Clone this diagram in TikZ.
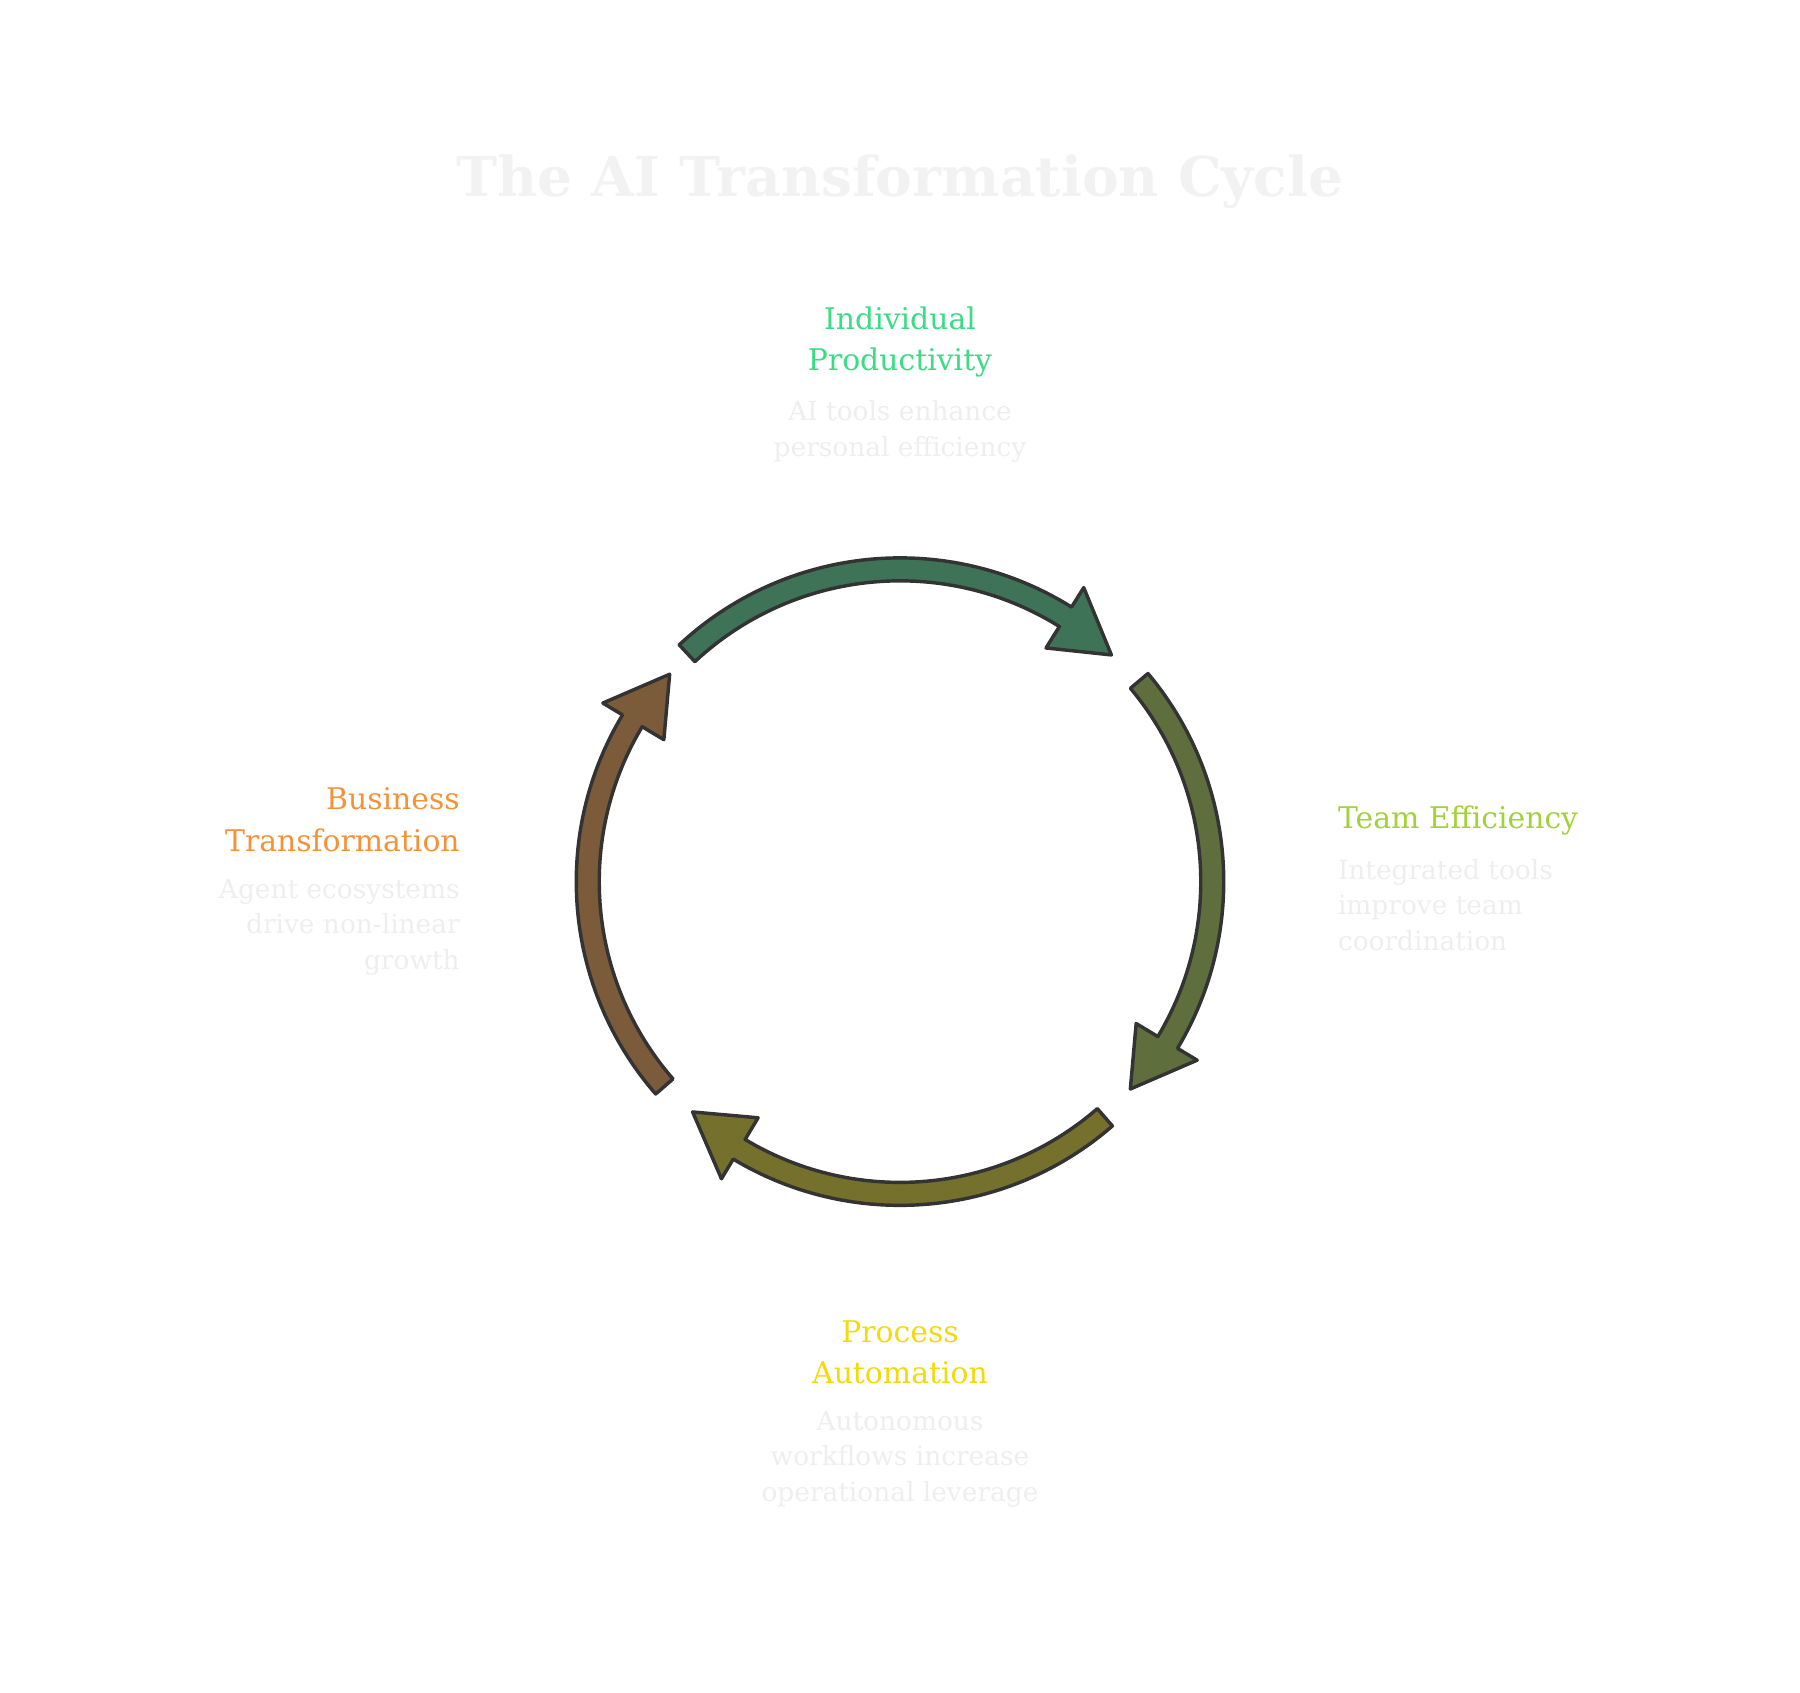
\documentclass[tikz,border=0pt]{standalone}
\usepackage{fontspec}
\setmainfont{DejaVu Serif}
\definecolor{ttl}{HTML}{F2F2F2}
\definecolor{dsc}{HTML}{EEEEEE}
\definecolor{cA}{HTML}{3DDB85}
\definecolor{cB}{HTML}{A3D13A}
\definecolor{cC}{HTML}{F2DA0C}
\definecolor{cD}{HTML}{F4923A}
\definecolor{fA}{HTML}{3E7358}
\definecolor{fB}{HTML}{5E6E3C}
\definecolor{fC}{HTML}{75702B}
\definecolor{fD}{HTML}{7C5B3B}
\tikzset{
 lab/.style={font=\fontsize{26}{36}\selectfont},
 desc/.style={font=\fontsize{23}{31}\selectfont,text=dsc},
 arr/.style={draw=black!80,line width=3pt,line join=round}
}
\newcommand{\cyclearrow}[3]{%
 \pgfmathsetmacro{\hb}{#2+11}
 \fill[#3] (#1:282) arc[start angle=#1,end angle=\hb,radius=282] -- (\hb:302) -- (#2:270) -- (\hb:240) -- (\hb:262) arc[start angle=\hb,end angle=#1,radius=262] -- cycle;
 \draw[arr] (#1:282) arc[start angle=#1,end angle=\hb,radius=282] -- (\hb:302) -- (#2:270) -- (\hb:240) -- (\hb:262) arc[start angle=\hb,end angle=#1,radius=262] -- cycle;
}
\begin{document}
\begin{tikzpicture}[x=1pt,y=1pt]
\useasboundingbox (0,0) rectangle (1568,1474);
\node[font=\fontsize{48}{60}\selectfont\bfseries,text=ttl] (title) at (784,1316) {The AI Transformation Cycle};
\begin{scope}[shift={(784,706)}]
 \cyclearrow{133}{47}{fA}
 \cyclearrow{40}{-42}{fB}
 \cyclearrow{-49}{-132}{fC}
 \cyclearrow{221}{138}{fD}
\end{scope}
\node[lab,text=cA,align=center] (l1) at (784,1176) {Individual\\Productivity};
\node[desc,align=center] (d1) at (784,1098) {AI tools enhance\\personal efficiency};
\node[lab,text=cB,anchor=west] (l2) at (1162,759) {Team Efficiency};
\node[desc,align=left,anchor=north west] (d2) at (1162,729) {Integrated tools\\improve team\\coordination};
\node[lab,text=cC,align=center] (l3) at (784,296) {Process\\Automation};
\node[desc,align=center] (d3) at (784,203) {Autonomous\\workflows increase\\operational leverage};
\node[lab,text=cD,align=right,anchor=east] (l4) at (404,760) {Business\\Transformation};
\node[desc,align=right,anchor=north east] (d4) at (404,712) {Agent ecosystems\\drive non-linear\\growth};
\end{tikzpicture}
\end{document}
